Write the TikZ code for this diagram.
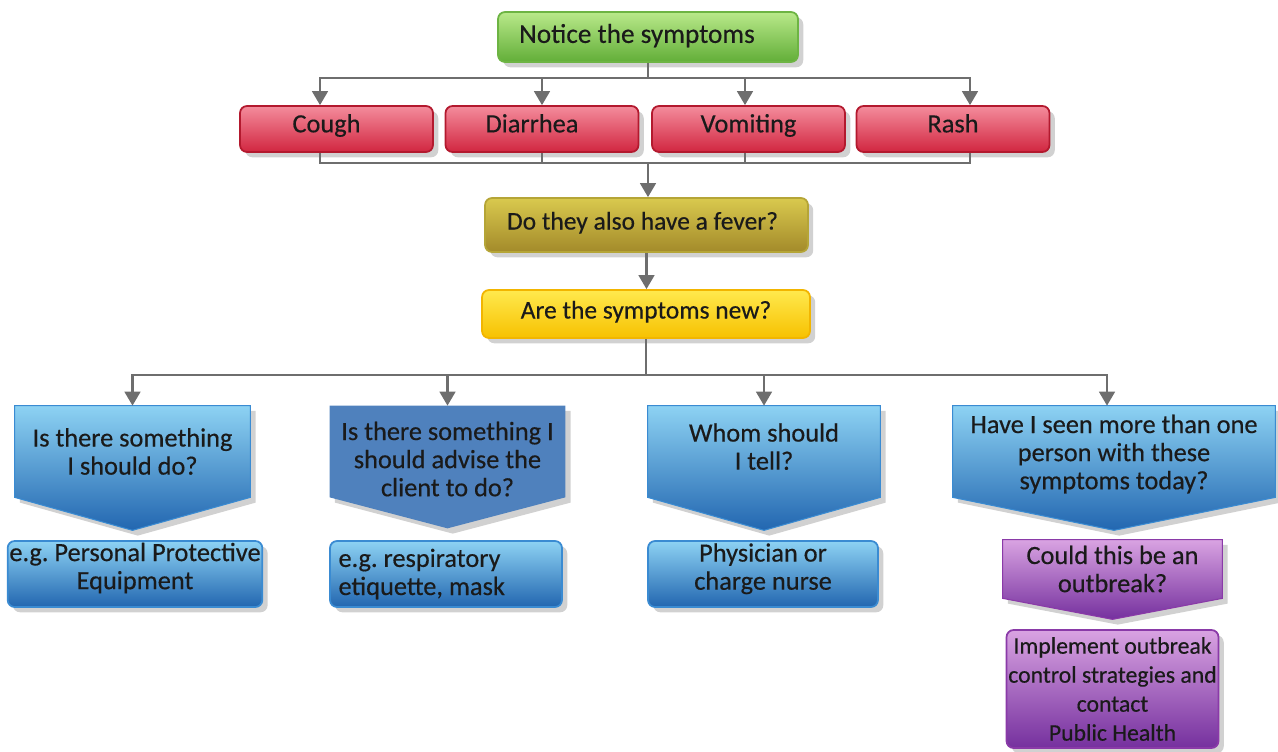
\documentclass[tikz,border=0pt]{standalone}
\usepackage{fontspec}
\setmainfont{Carlito}[FakeBold=0.4]
\usetikzlibrary{arrows.meta,shadows,backgrounds}

\definecolor{conngray}{HTML}{6E6E6E}
\definecolor{txt}{HTML}{1A1A1A}
\definecolor{greentop}{HTML}{B9E98A}
\definecolor{greenbot}{HTML}{62AE38}
\definecolor{greenline}{HTML}{6DB443}
\definecolor{redtop}{HTML}{F48C9C}
\definecolor{redbot}{HTML}{D12640}
\definecolor{redline}{HTML}{B3192E}
\definecolor{olivetop}{HTML}{D9C94E}
\definecolor{olivebot}{HTML}{A38A2A}
\definecolor{oliveline}{HTML}{B5A537}
\definecolor{yellowtop}{HTML}{FFE94E}
\definecolor{yellowbot}{HTML}{F7C100}
\definecolor{yellowline}{HTML}{F2B500}
\definecolor{bluetop}{HTML}{8DD2F3}
\definecolor{bluebot}{HTML}{2266B0}
\definecolor{blueline}{HTML}{3A8BD2}
\definecolor{blueflat}{HTML}{4F81BD}
\definecolor{purpletop}{HTML}{D9A3E2}
\definecolor{purplebot}{HTML}{75309E}
\definecolor{purpleline}{HTML}{8A3AA8}

% lowers a block of lines without changing the node size
\newcommand{\lowered}[2]{\raisebox{-#1}[\height][\depth]{\begin{tabular}{@{}c@{}}#2\end{tabular}}}

\tikzset{
  conn/.style={draw=conngray, line width=1.3pt, -{Triangle[width=9pt,length=8pt]}},
  bus/.style={draw=conngray, line width=1.3pt},
  softshadow/.style={drop shadow={shadow xshift=3pt, shadow yshift=-3pt, opacity=0.3, fill=black!60}},
  box/.style={rounded corners=4pt, line width=1pt, text=txt, align=center, inner sep=1pt, softshadow},
  oneline/.style={text height=1.4ex, text depth=0.6ex},
  greenbox/.style={box, text height=1.75ex, text depth=0.35ex, draw=greenline, top color=greentop, bottom color=greenbot, font=\fontsize{15.5}{18}\selectfont},
  redbox/.style={box, oneline, draw=redline, top color=redtop, bottom color=redbot, minimum width=3.86cm, minimum height=0.92cm, font=\fontsize{15}{18}\selectfont},
  olivebox/.style={box, text height=1.5ex, text depth=0.42ex, draw=oliveline, top color=olivetop, bottom color=olivebot, font=\fontsize{14.5}{18}\selectfont},
  yellowbox/.style={box, text height=1.5ex, text depth=0.42ex, draw=yellowline, top color=yellowtop, bottom color=yellowbot, font=\fontsize{14.5}{18}\selectfont},
  question/.style={text=txt, align=center, inner sep=0pt, font=\fontsize{15}{16}\selectfont},
  bluepent/.style={draw=blueline, line width=0.6pt, top color=bluetop, bottom color=bluebot, softshadow},
  flatpent/.style={fill=blueflat, softshadow},
  purplepent/.style={draw=purpleline, line width=0.6pt, top color=purpletop, bottom color=purplebot, softshadow},
  bluebox/.style={box, draw=blueline, top color=bluetop, bottom color=bluebot, font=\fontsize{15}{16}\selectfont},
  purplebox/.style={box, draw=purpleline, top color=purpletop, bottom color=purplebot, font=\fontsize{13.5}{16.5}\selectfont}
}

\begin{document}
\frenchspacing
\begin{tikzpicture}[x=0.02cm, y=-0.02cm]
\useasboundingbox (0,0) rectangle (1278,751);

% top of the chart
\node[greenbox, minimum width=6cm, minimum height=1cm] (notice) at (648,37) {Notice the symptoms\hspace{0.44cm}};
\node[redbox] (cough) at (336.5,129) {Cough\hspace{0.4cm}};
\node[redbox] (diarrhea) at (542,129) {Diarrhea\hspace{0.4cm}};
\node[redbox] (vomiting) at (748.5,129) {Vomiting};
\node[redbox] (rash) at (953,129) {Rash};
\node[olivebox, minimum width=6.46cm, minimum height=1.08cm] (fever) at (646.5,225) {Do they also have a fever?\hspace{0.16cm}};
\node[yellowbox, minimum width=6.56cm, minimum height=0.96cm] (new) at (646,314) {Are the symptoms new?};

% questions
\node[question, minimum width=4.7cm, minimum height=1.82cm] (q1) at (132.5,451.5) {Is there something\\I should do?};
\node[question, minimum width=4.7cm, minimum height=1.82cm] (q2) at (447.5,451.5) {\lowered{0.22cm}{Is there something I\\should advise the\\client to do?}};
\node[question, minimum width=4.64cm, minimum height=1.82cm] (q3) at (764,451.5) {\lowered{-0.03cm}{Whom should\\I tell?}};
\node[question, minimum width=6.44cm, minimum height=1.82cm] (q4) at (1114,451.5) {\lowered{0.08cm}{Have I seen more than one\\person with these\\symptoms today?}};
\node[question, minimum width=4.38cm, minimum height=1.16cm] (q5) at (1112.5,569) {Could this be an\\outbreak?};

% answers
\node[bluebox, minimum width=4.92cm, minimum height=1.32cm] (a1) at (135,574) {\lowered{-0.09cm}{e.g. Personal Protective\\Equipment}};
\node[bluebox, minimum width=4.64cm, minimum height=1.32cm, align=flush left, text width=4.3cm] (a2) at (446,574) {e.g. respiratory\\etiquette, mask};
\node[bluebox, minimum width=4.6cm, minimum height=1.32cm] (a3) at (763,574) {\lowered{-0.08cm}{Physician or\\charge nurse}};
\node[purplebox, minimum width=4.22cm, minimum height=2.36cm] (a5) at (1112.5,689) {Implement outbreak\\control strategies and\\contact\\Public Health};

\begin{scope}[on background layer]
\foreach \n/\s/\t in {q1/bluepent/0.66cm, q2/flatpent/0.62cm, q3/bluepent/0.66cm, q4/bluepent/0.66cm, q5/purplepent/0.42cm}
  \path[\s] (\n.north west) -- (\n.north east) -- (\n.south east) -- ([yshift=-\t]\n.south) -- (\n.south west) -- cycle;
\end{scope}

% connectors
\coordinate (b1) at (648,78);
\coordinate (b2) at (648,163);
\coordinate (b3) at (646,375);
\draw[bus] (notice.south) -- (b1);
\draw[conn] (b1) -| ([xshift=-0.33cm]cough.north);
\draw[conn] (b1) -| (diarrhea.north);
\draw[conn] (b1) -| ([xshift=-0.07cm]vomiting.north);
\draw[conn] (b1) -| ([xshift=0.34cm]rash.north);
\draw[bus] ([xshift=-0.33cm]cough.south) |- (b2);
\draw[bus] (diarrhea.south) |- (b2);
\draw[bus] ([xshift=-0.07cm]vomiting.south) |- (b2);
\draw[bus] ([xshift=0.34cm]rash.south) |- (b2);
\draw[conn] (b2) -- (b2 |- fever.north);
\draw[conn] (fever.south) -- (fever.south |- new.north);
\draw[bus] (new.south) -- (b3);
\draw[conn] (b3) -| (q1.north);
\draw[conn] (b3) -| (q2.north);
\draw[conn] (b3) -| (q3.north);
\draw[conn] (b3) -| ([xshift=-0.14cm]q4.north);
\end{tikzpicture}
\end{document}
